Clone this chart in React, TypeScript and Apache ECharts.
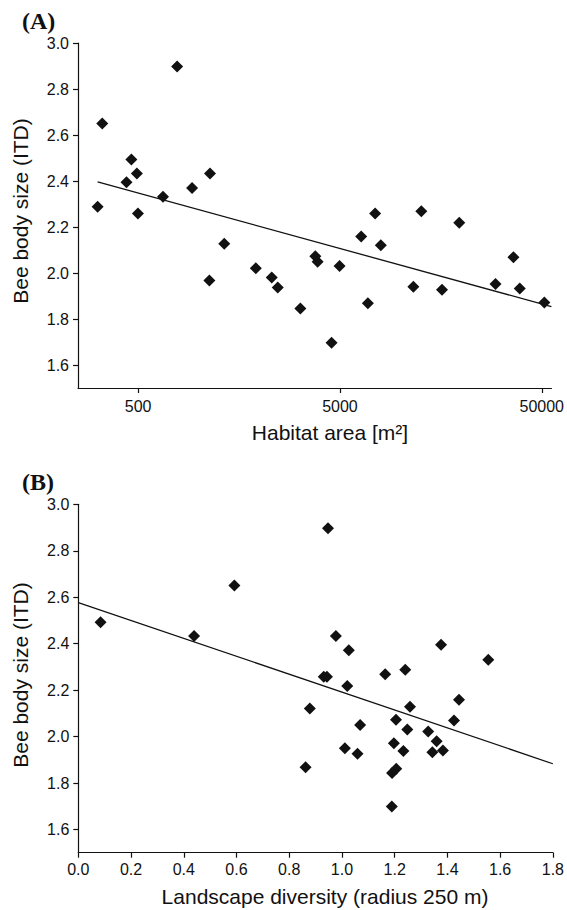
import React, { useEffect, useRef } from "react";
import * as echarts from "echarts";

// Panel A: habitat area (m²) vs bee body size (ITD)
const habitatArea = [315, 332, 780, 463, 438, 493, 499, 664, 925, 1135, 1336, 1127, 1915, 2297, 2460, 3184, 3776, 3876, 4544, 4980, 6370, 7470, 7970, 6875, 11560, 12650, 16020, 19500, 29500, 36200, 38900, 51500];
const bodySizeA = [2.288, 2.65, 2.898, 2.493, 2.395, 2.433, 2.259, 2.331, 2.37, 2.433, 2.127, 1.967, 2.021, 1.98, 1.937, 1.846, 2.073, 2.049, 1.697, 2.03, 2.159, 2.259, 2.121, 1.869, 1.94, 2.269, 1.927, 2.218, 1.952, 2.069, 1.933, 1.872];
const fitAreaX = [315, 55830];
const fitAreaY = [2.396, 1.854];
const areaTicks = [500, 5000, 50000];
const areaMin = 251.8;
const areaMax = 55830;

// Panel B: landscape diversity vs bee body size (ITD)
const landscapeDiversity = [0.0845, 0.439, 0.592, 0.947, 0.977, 1.026, 1.376, 1.555, 0.931, 0.943, 1.02, 1.164, 1.24, 0.878, 1.258, 1.444, 1.205, 1.425, 1.069, 1.248, 1.327, 1.359, 1.011, 1.059, 1.197, 1.233, 1.343, 1.383, 1.206, 1.19, 1.189, 0.862];
const bodySizeB = [2.492, 2.433, 2.65, 2.897, 2.433, 2.372, 2.395, 2.331, 2.258, 2.258, 2.218, 2.2685, 2.288, 2.1205, 2.128, 2.158, 2.072, 2.069, 2.05, 2.03, 2.022, 1.98, 1.95, 1.926, 1.971, 1.938, 1.933, 1.94, 1.861, 1.843, 1.699, 1.868];
const fitDivX = [0, 1.8];
const fitDivY = [2.577, 1.883];

const yTicks = [1.6, 1.8, 2.0, 2.2, 2.4, 2.6, 2.8, 3.0];

const SANS = "'Liberation Sans', Arial, Helvetica, sans-serif";
const SERIF = "'Liberation Serif', 'Times New Roman', serif";
const INK = "#111";

export default function App() {
  const ref = useRef<HTMLDivElement>(null);
  useEffect(() => {
    if (!ref.current) return;
    const chart = echarts.init(ref.current, undefined, { renderer: "svg" });
    const lg = (v: number) => Math.log10(v);
    const axisLine = { show: true, onZero: false, lineStyle: { color: INK, width: 1.2 } };
    const axisTickBase = { show: true, length: 5, lineStyle: { color: INK, width: 1.2 } };
    const labelBase = { color: INK, fontSize: 16, fontFamily: SANS };
    const yAxisBase = {
      type: "value",
      min: 1.5,
      max: 3.0,
      splitLine: { show: false },
      axisLine,
      axisTick: { ...axisTickBase, customValues: yTicks },
      axisLabel: { ...labelBase, margin: 9, customValues: yTicks, formatter: (v: number) => v.toFixed(1) },
    };
    const diamond = { type: "scatter", symbol: "diamond", symbolSize: 12, itemStyle: { color: INK, opacity: 1 }, z: 3 };
    const fitLine = { type: "line", symbol: "none", lineStyle: { color: INK, width: 1.3 }, z: 2 };
    chart.setOption({
      animation: false,
      grid: [
        { left: 78, top: 43, right: 14.3, height: 345, containLabel: false },
        { left: 78.3, top: 504.3, right: 11.7, height: 348.4, containLabel: false },
      ],
      xAxis: [
        {
          type: "value",
          gridIndex: 0,
          min: lg(areaMin),
          max: lg(areaMax),
          splitLine: { show: false },
          axisLine,
          axisTick: { ...axisTickBase, customValues: areaTicks.map(lg) },
          axisLabel: {
            ...labelBase,
            margin: 10,
            customValues: areaTicks.map(lg),
            formatter: (v: number) => String(Math.round(Math.pow(10, v))),
          },
        },
        {
          type: "value",
          gridIndex: 1,
          min: 0,
          max: 1.8,
          interval: 0.2,
          splitLine: { show: false },
          axisLine,
          axisTick: axisTickBase,
          axisLabel: { ...labelBase, margin: 9, formatter: (v: number) => v.toFixed(1) },
        },
      ],
      yAxis: [
        { ...yAxisBase, gridIndex: 0 },
        { ...yAxisBase, gridIndex: 1 },
      ],
      series: [
        { ...fitLine, xAxisIndex: 0, yAxisIndex: 0, data: fitAreaX.map((x, i) => [lg(x), fitAreaY[i]]) },
        { ...diamond, xAxisIndex: 0, yAxisIndex: 0, data: habitatArea.map((x, i) => [lg(x), bodySizeA[i]]) },
        { ...fitLine, xAxisIndex: 1, yAxisIndex: 1, data: fitDivX.map((x, i) => [x, fitDivY[i]]) },
        { ...diamond, xAxisIndex: 1, yAxisIndex: 1, data: landscapeDiversity.map((x, i) => [x, bodySizeB[i]]) },
      ],
      graphic: [
        { type: "text", x: 22, y: 21, style: { text: "(A)", fontFamily: SERIF, fontWeight: "bold", fontSize: 24, fill: INK, align: "left", verticalAlign: "middle" } },
        { type: "text", x: 22, y: 482, style: { text: "(B)", fontFamily: SERIF, fontWeight: "bold", fontSize: 24, fill: INK, align: "left", verticalAlign: "middle" } },
        { type: "text", x: 20, y: 211, rotation: Math.PI / 2, style: { text: "Bee body size (ITD)", fontFamily: SANS, fontSize: 21, fill: INK, align: "center", verticalAlign: "middle" } },
        { type: "text", x: 20, y: 675, rotation: Math.PI / 2, style: { text: "Bee body size (ITD)", fontFamily: SANS, fontSize: 21, fill: INK, align: "center", verticalAlign: "middle" } },
        { type: "text", x: 330, y: 432, style: { text: "Habitat area [m²]", fontFamily: SANS, fontSize: 21, fill: INK, align: "center", verticalAlign: "middle" } },
        { type: "text", x: 325, y: 896, style: { text: "Landscape diversity (radius 250 m)", fontFamily: SANS, fontSize: 21, fill: INK, align: "center", verticalAlign: "middle" } },
      ],
    });
    return () => chart.dispose();
  }, []);
  return <div ref={ref} style={{ position: "fixed", left: 0, top: 0, width: 567, height: 910, background: "#fff" }} />;
}
